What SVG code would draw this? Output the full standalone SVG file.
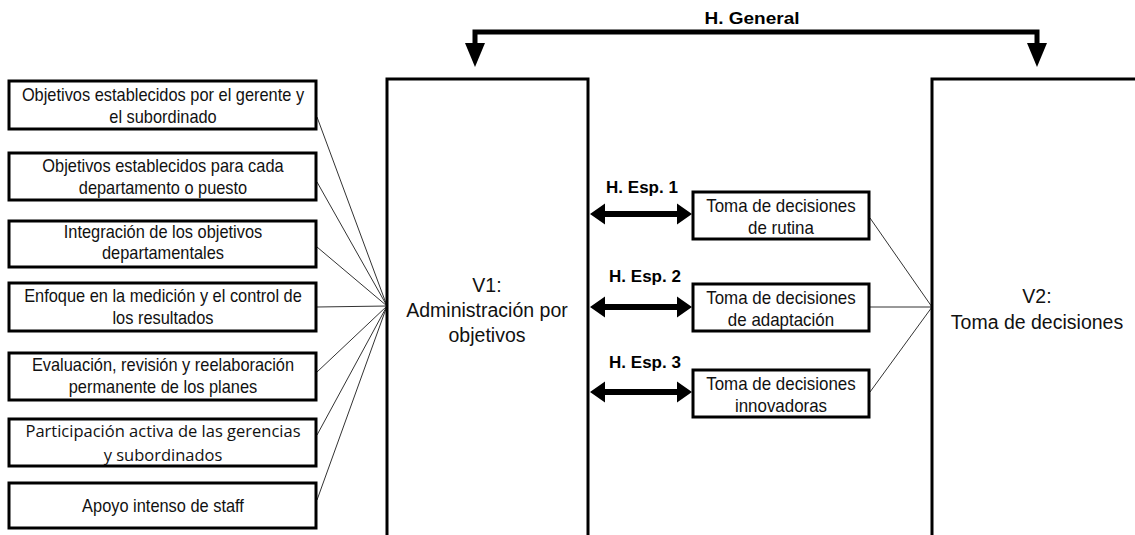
<svg xmlns="http://www.w3.org/2000/svg" width="1135" height="535" viewBox="0 0 1135 535">
  <style>
    .box { fill: #fff; stroke: #000; stroke-width: 3; }
    .big { fill: #fff; stroke: #000; stroke-width: 3; }
    .t { font-family: "Liberation Sans", Arial, sans-serif; font-size: 17.5px; fill: #111; text-anchor: middle; }
    .t2 { font-family: "Open Sans", "Noto Sans", sans-serif; font-size: 16.5px; fill: #111; text-anchor: middle; }
    .tv { font-family: "Liberation Sans", Arial, sans-serif; font-size: 19.5px; fill: #111; text-anchor: middle; }
    .lbl { font-family: "Liberation Sans", Arial, sans-serif; font-size: 17px; font-weight: bold; fill: #000; text-anchor: middle; }
    .thin { stroke: #333; stroke-width: 1; fill: none; }
    .thick { stroke: #000; stroke-width: 5; fill: none; }
  </style>
  <defs>
    <!-- double-headed arrow, 102 px long, centred on y=0 -->
    <path id="dblArrow" d="M0,0 L15,-10.5 L15,-3 L87,-3 L87,-10.5 L102,0 L87,10.5 L87,3 L15,3 L15,10.5 Z" fill="#000"/>
    <path id="downHead" d="M-10,0 L10,0 L0,24 Z" fill="#000"/>
  </defs>

  <rect width="1135" height="535" fill="#fff"/>

  <!-- general hypothesis bracket -->
  <g id="h-general">
    <text class="lbl" x="752" y="24" font-size="19" textLength="95" lengthAdjust="spacingAndGlyphs">H. General</text>
    <path class="thick" d="M475,45 V32 H1037 V45"/>
    <use href="#downHead" x="475" y="43"/>
    <use href="#downHead" x="1037" y="43"/>
  </g>

  <!-- connectors -->
  <g id="connectors">
    <line class="thin" x1="317" y1="117" x2="387" y2="306"/>
    <line class="thin" x1="317" y1="182" x2="387" y2="306"/>
    <line class="thin" x1="317" y1="247" x2="387" y2="306"/>
    <line class="thin" x1="317" y1="307" x2="387" y2="306"/>
    <line class="thin" x1="317" y1="372" x2="387" y2="306"/>
    <line class="thin" x1="317" y1="435" x2="387" y2="306"/>
    <line class="thin" x1="317" y1="500" x2="387" y2="306"/>
    <line class="thin" x1="870" y1="218" x2="932" y2="307"/>
    <line class="thin" x1="870" y1="307" x2="932" y2="307"/>
    <line class="thin" x1="870" y1="392" x2="932" y2="307"/>
    <use href="#dblArrow" x="590" y="214"/>
    <use href="#dblArrow" x="590" y="307"/>
    <use href="#dblArrow" x="590" y="392"/>
  </g>

  <!-- V1 -->
  <g id="v1">
    <rect class="big" x="387" y="79" width="201" height="460"/>
    <text class="tv" x="487" y="292">V1:</text>
    <text class="tv" x="487" y="317">Administración por</text>
    <text class="tv" x="487" y="342">objetivos</text>
  </g>

  <!-- V2 -->
  <g id="v2">
    <rect class="big" x="932" y="79" width="220" height="460"/>
    <text class="tv" x="1037" y="303">V2:</text>
    <text class="tv" x="1037" y="329">Toma de decisiones</text>
  </g>

  <!-- V1 dimensions -->
  <g id="d1">
    <rect class="box" x="9" y="81" width="307" height="48"/>
    <g transform="translate(163 0) scale(0.937 1)">
      <text class="t" x="0" y="101">Objetivos establecidos por el gerente y</text>
      <text class="t" x="0" y="123">el subordinado</text>
    </g>
  </g>
  <g id="d2">
    <rect class="box" x="9" y="153" width="307" height="47"/>
    <g transform="translate(163 0) scale(0.937 1)">
      <text class="t" x="0" y="172">Objetivos establecidos para cada</text>
      <text class="t" x="0" y="194">departamento o puesto</text>
    </g>
  </g>
  <g id="d3">
    <rect class="box" x="9" y="221" width="307" height="46"/>
    <g transform="translate(163 0) scale(0.937 1)">
      <text class="t" x="0" y="238">Integración de los objetivos</text>
      <text class="t" x="0" y="259">departamentales</text>
    </g>
  </g>
  <g id="d4">
    <rect class="box" x="9" y="283" width="307" height="48"/>
    <g transform="translate(163 0) scale(0.937 1)">
      <text class="t" x="0" y="302">Enfoque en la medición y el control de</text>
      <text class="t" x="0" y="324">los resultados</text>
    </g>
  </g>
  <g id="d5">
    <rect class="box" x="9" y="353" width="307" height="47"/>
    <g transform="translate(163 0) scale(0.937 1)">
      <text class="t" x="0" y="371">Evaluación, revisión y reelaboración</text>
      <text class="t" x="0" y="393">permanente de los planes</text>
    </g>
  </g>
  <g id="d6">
    <rect class="box" x="9" y="419" width="307" height="47"/>
    <text class="t2" x="163" y="437">Participación activa de las gerencias</text>
    <text class="t2" x="163" y="461">y subordinados</text>
  </g>
  <g id="d7">
    <rect class="box" x="9" y="483" width="307" height="45"/>
    <g transform="translate(163 0) scale(0.937 1)">
      <text class="t" x="0" y="512">Apoyo intenso de staff</text>
    </g>
  </g>

  <!-- V2 dimensions -->
  <g id="td1">
    <text class="lbl" x="642" y="193">H. Esp. 1</text>
    <rect class="box" x="693" y="192" width="176" height="47"/>
    <g transform="translate(781 0) scale(0.967 1)">
      <text class="t" x="0" y="212">Toma de decisiones</text>
      <text class="t" x="0" y="234">de rutina</text>
    </g>
  </g>
  <g id="td2">
    <text class="lbl" x="645" y="282">H. Esp. 2</text>
    <rect class="box" x="693" y="284" width="176" height="47"/>
    <g transform="translate(781 0) scale(0.967 1)">
      <text class="t" x="0" y="304">Toma de decisiones</text>
      <text class="t" x="0" y="326">de adaptación</text>
    </g>
  </g>
  <g id="td3">
    <text class="lbl" x="645" y="368">H. Esp. 3</text>
    <rect class="box" x="693" y="370" width="176" height="47"/>
    <g transform="translate(781 0) scale(0.967 1)">
      <text class="t" x="0" y="390">Toma de decisiones</text>
      <text class="t" x="0" y="412">innovadoras</text>
    </g>
  </g>
</svg>
